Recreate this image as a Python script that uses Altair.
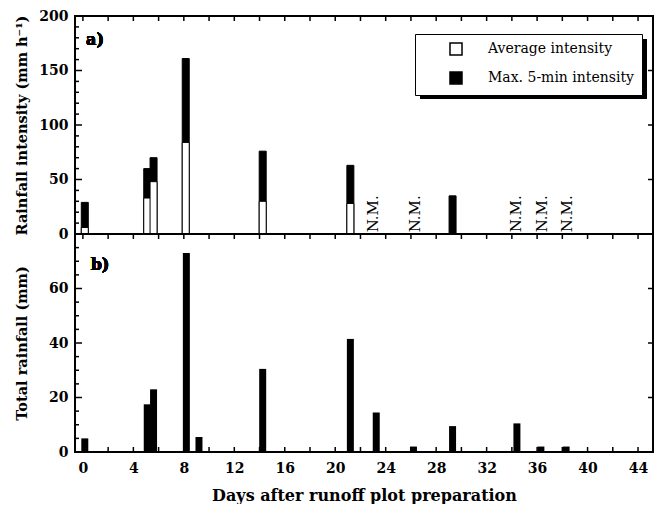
import altair as alt
import pandas as pd

# ---- Panel a: rainfall intensity (mm h-1) ----
int_days = [0.15, 5.1, 5.6, 8.15, 14.25, 21.2, 29.3]
avg_int = [6, 33, 48, 84, 30, 28, None]
max_int = [29, 60, 70, 161, 76, 63, 35]
nm_days = [23.0, 26.3, 34.3, 36.4, 38.4]
nm_labels = ["N.M.", "N.M.", "N.M.", "N.M.", "N.M."]
series_names = ["Average intensity", "Max. 5-min intensity"]

# ---- Panel b: total rainfall (mm) ----
rain_days = [0.15, 5.1, 5.6, 8.2, 9.2, 14.25, 21.2, 23.25, 26.2, 29.3, 34.4, 36.3, 38.3]
total_rain = [5, 17.5, 23, 73, 5.5, 30.5, 41.5, 14.5, 2, 9.5, 10.5, 2, 2]

# ---- ticks ----
x_ticks = list(range(0, 45, 2))
ya_major = [0, 50, 100, 150, 200]
ya_minor = [v for v in range(10, 200, 10) if v % 50 != 0]
ya_right = [50, 100, 150]
yb_major = [0, 20, 40, 60, 80]
yb_minor = [v for v in range(5, 80, 5) if v % 20 != 0]
yb_right = [20, 40, 60]

W = 578
H = 218
SERIF = "DejaVu Serif"

xscale = alt.Scale(domain=[-0.23, 44.79], nice=False, zero=False)
ya_scale = alt.Scale(domain=[0, 200], nice=False)
yb_scale = alt.Scale(domain=[0, 80], nice=False)

# long table for panel a (max drawn first, average on top)
rows = []
for d, m in zip(int_days, max_int):
    rows.append({"day": d, "val": m, "series": series_names[1], "rank": 0})
for d, a in zip(int_days, avg_int):
    if a is not None:
        rows.append({"day": d, "val": a, "series": series_names[0], "rank": 1})
df_a = pd.DataFrame(rows)
df_b = pd.DataFrame({"day": rain_days, "val": total_rain})
df_nm = pd.DataFrame({"day": nm_days, "label": nm_labels})
df_xt = pd.DataFrame({"day": x_ticks})


def yticks(vals, scale, x0, x1):
    return alt.Chart(pd.DataFrame({"val": vals})).mark_rule(color="black", strokeWidth=1.5).encode(
        y=alt.Y("val:Q", scale=scale), x=alt.value(x0), x2=alt.value(x1)
    )


def xticks(y0, y1):
    return alt.Chart(df_xt).mark_rule(color="black", strokeWidth=1.5).encode(
        x=alt.X("day:Q", scale=xscale), y=alt.value(y0), y2=alt.value(y1)
    )


bars_a = alt.Chart(df_a).mark_bar(size=7, stroke="black", strokeWidth=1).encode(
    x=alt.X("day:Q", scale=xscale, axis=None),
    y=alt.Y("val:Q", scale=ya_scale, stack=None,
            axis=alt.Axis(values=ya_major, title="Rainfall intensity (mm h⁻¹)", ticks=False,
                          domain=False, grid=False, labelPadding=7, titleX=-46,
                          titleFontSize=14.5, format="d")),
    color=alt.Color("series:N", scale=alt.Scale(domain=series_names, range=["white", "black"]),
                    legend=alt.Legend(title=None, orient="none", legendX=340, legendY=18,
                                      padding=8, strokeColor="black", fillColor="white",
                                      labelFont=SERIF, labelFontSize=14, labelFontWeight="normal",
                                      labelColor="black", symbolType="square", symbolSize=144,
                                      symbolStrokeColor="black", symbolStrokeWidth=1.5,
                                      symbolOffset=26, labelOffset=25, rowPadding=11)),
    order=alt.Order("rank:Q"),
)

shadow = alt.Chart(df_a).mark_rect(color="black").encode(
    x=alt.value(345), x2=alt.value(572), y=alt.value(23), y2=alt.value(83)
)

nm_text = alt.Chart(df_nm).mark_text(angle=270, align="left", baseline="middle", font=SERIF,
                                      fontSize=15, color="black").encode(
    x=alt.X("day:Q", scale=xscale), y=alt.datum(1.5), text="label:N"
)

lab_a = alt.Chart(df_a).mark_text(text="a)", font=SERIF, fontSize=16, fontWeight="bold",
                                  color="black", align="center", baseline="middle").encode(
    x=alt.value(20), y=alt.value(24)
)

panel_a = alt.layer(
    bars_a, shadow, nm_text, lab_a,
    yticks(ya_major, ya_scale, 0, 7), yticks(ya_minor, ya_scale, 0, 4),
    yticks(ya_right, ya_scale, W - 5, W),
    xticks(0, 5),
).properties(width=W, height=H)

bars_b = alt.Chart(df_b).mark_bar(size=7, color="black").encode(
    x=alt.X("day:Q", scale=xscale,
            axis=alt.Axis(values=x_ticks, title="Days after runoff plot preparation", ticks=False,
                          domain=False, grid=False, labelPadding=9, titlePadding=12,
                          labelOverlap=False, titleFontSize=16, format="d")),
    y=alt.Y("val:Q", scale=yb_scale,
            axis=alt.Axis(values=[0, 20, 40, 60], title="Total rainfall (mm)", ticks=False,
                          domain=False, grid=False, labelPadding=7, titleX=-46,
                          titleFontSize=14.5, format="d")),
)

lab_b = alt.Chart(df_b).mark_text(text="b)", font=SERIF, fontSize=16, fontWeight="bold",
                                  color="black", align="center", baseline="middle").encode(
    x=alt.value(25), y=alt.value(31)
)

panel_b = alt.layer(
    bars_b, lab_b,
    yticks(yb_major, yb_scale, 0, 7), yticks(yb_minor, yb_scale, 0, 4),
    yticks(yb_right, yb_scale, W - 5, W),
    xticks(0, 5), xticks(H, H - 5),
).properties(width=W, height=H)

chart = alt.vconcat(panel_a, panel_b, spacing=0, bounds="flush").resolve_legend(
    color="independent"
).properties(
    padding={"left": 4, "top": 0, "right": 0, "bottom": 0}, background="white"
).configure_view(stroke="black", strokeWidth=2).configure_axis(
    labelFont=SERIF, labelFontSize=14, labelFontWeight="bold", labelColor="black",
    titleFont=SERIF, titleFontSize=14, titleFontWeight="bold", titleColor="black"
)

chart.save("out.html", embed_options={"renderer": "svg", "actions": False})
